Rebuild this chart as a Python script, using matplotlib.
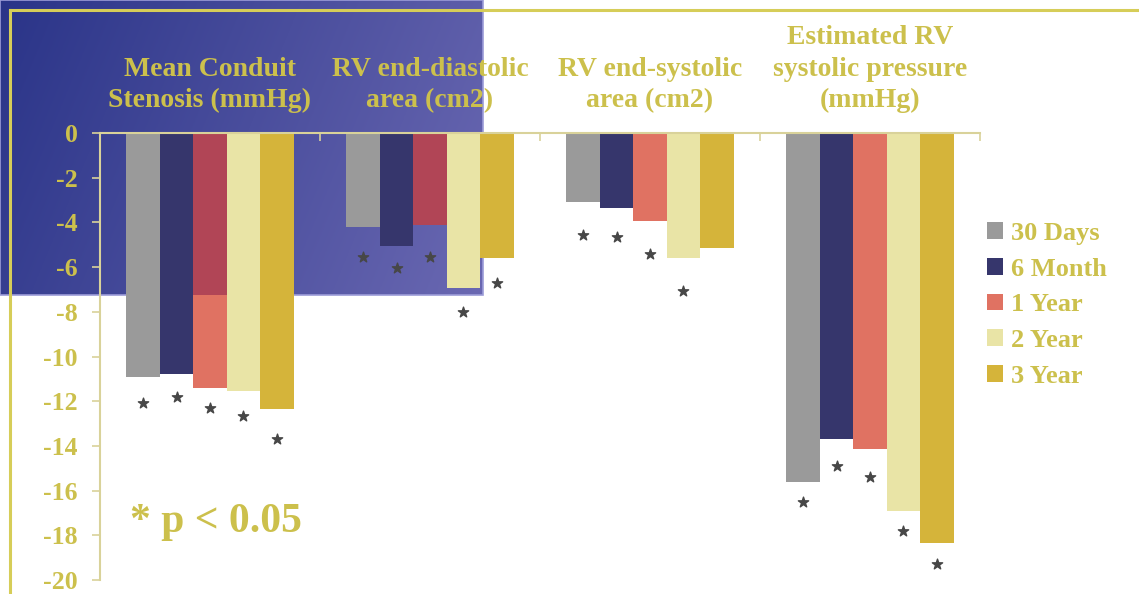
import numpy as np
import matplotlib
matplotlib.use("Agg")
import matplotlib.pyplot as plt
from matplotlib.patches import Rectangle
from matplotlib.lines import Line2D
from matplotlib.colors import to_rgb

# ---- data -------------------------------------------------------------
categories = [
    "Mean Conduit\nStenosis (mmHg)",
    "RV end-diastolic\narea (cm2)",
    "RV end-systolic\narea (cm2)",
    "Estimated RV\nsystolic pressure\n(mmHg)",
]
series = ["30 Days", "6 Month", "1 Year", "2 Year", "3 Year"]

change_30d = [-10.9, -4.2, -3.1, -15.6]
change_6m = [-10.8, -5.05, -3.35, -13.7]
change_1y = [-11.4, -4.1, -3.95, -14.15]
change_2y = [-11.55, -6.95, -5.6, -16.9]
change_3y = [-12.35, -5.6, -5.15, -18.35]

# y position of the significance asterisk under each bar (None = not significant)
star_30d = [-12.1, -5.55, -4.55, -16.5]
star_6m = [-11.8, -6.05, -4.65, -14.9]
star_1y = [-12.3, -5.55, -5.4, -15.4]
star_2y = [-12.65, -8.0, -7.05, -17.8]
star_3y = [-13.7, -6.7, None, -19.3]

yticks = [0, -2, -4, -6, -8, -10, -12, -14, -16, -18, -20]
note_text = "* p < 0.05"

values = [change_30d, change_6m, change_1y, change_2y, change_3y]
stars = [star_30d, star_6m, star_1y, star_2y, star_3y]
colors = ["#9A9A9A", "#36366C", "#E07262", "#E9E4A6", "#D5B43A"]
dark_red = "#B14556"

GOLD = "#CCC04C"
AXIS = "#D9D29A"
W, H = 1139, 594

plt.rcParams["font.family"] = ["Liberation Serif", "DejaVu Serif"]
plt.rcParams["font.weight"] = "bold"

fig = plt.figure(figsize=(W / 100, H / 100), dpi=100)
fig.patch.set_facecolor("white")

# ---- blue panel in the upper left --------------------------------------
px, py, pw, ph = 0, 295, 483, 295  # left, bottom(from top), width, height in pixels
bg_ax = fig.add_axes([px / W, 1 - py / H, pw / W, ph / H], zorder=0)
c0 = np.array(to_rgb("#2A3488"))
c1 = np.array(to_rgb("#6A68B2"))
gx = np.linspace(0, 1, 300)[None, :]
gy = np.linspace(0, 1, 150)[:, None]
t = np.clip(0.8 * gx + 0.2 * gy, 0, 1)[..., None]
grad = c0 * (1 - t) + c1 * t
bg_ax.imshow(grad, aspect="auto", extent=[0, 1, 0, 1], origin="upper")
bg_ax.set_axis_off()
fig.patches.append(Rectangle((px / W, 1 - py / H), pw / W, ph / H,
                             transform=fig.transFigure, fill=False,
                             edgecolor="#9C9CD8", linewidth=1.2, zorder=1))

# ---- main axes ---------------------------------------------------------
left, right, top, bottom = 100, 980, 133, 580
ax = fig.add_axes([left / W, 1 - bottom / H, (right - left) / W, (bottom - top) / H],
                  zorder=2)
ax.set_facecolor("none")

n = len(series)
width = 0.152
x = np.arange(len(categories)) + 0.5
for i, (vals, col) in enumerate(zip(values, colors)):
    xs = x + (i - (n - 1) / 2) * width
    ax.bar(xs, vals, width=width, color=col, label=series[i], zorder=2)
    sx = [xx for xx, s in zip(xs, stars[i]) if s is not None]
    sy = [s for s in stars[i] if s is not None]
    ax.scatter(sx, sy, marker="*", s=60, color="#474747", zorder=3)

# the 1 Year bars take on a darker tone where they cross the blue panel
clip_rect = Rectangle((px / W, 1 - py / H), pw / W, ph / H, transform=fig.transFigure)
xs1 = x + (2 - (n - 1) / 2) * width
over = ax.bar(xs1, change_1y, width=width, color=dark_red, zorder=2.5)
for p in over:
    p.set_clip_path(clip_rect)

ax.set_xlim(0, len(categories))
ax.set_ylim(-20, 0)
ax.set_yticks(yticks)
ax.set_yticklabels([str(v) for v in yticks])
ax.tick_params(axis="y", direction="out", length=6, width=1.2, color=AXIS,
               labelcolor=GOLD, labelsize=18.5, pad=10)
ax.xaxis.set_ticks_position("top")
ax.set_xticks(np.arange(len(categories) + 1))
ax.set_xticklabels([])
ax.tick_params(axis="x", direction="in", length=6, width=1.2, color=AXIS)
for s in ["bottom", "right"]:
    ax.spines[s].set_visible(False)
for s in ["left", "top"]:
    ax.spines[s].set_color(AXIS)
    ax.spines[s].set_linewidth(1.5)
for lbl in ax.get_yticklabels():
    lbl.set_fontweight("bold")

# category headings above the bars
for xi, cat in zip(x, categories):
    ax.text(xi, 1 + 20 / (bottom - top), cat, transform=ax.get_xaxis_transform(),
            ha="center", va="bottom", multialignment="center", color=GOLD,
            fontsize=20, fontweight="bold", linespacing=1.33)

ax.text(130 / W, 1 - 522 / H, note_text, transform=fig.transFigure,
        ha="left", va="center", color=GOLD, fontsize=30, fontweight="bold")

leg = ax.legend(loc="upper left", bbox_to_anchor=(987 / W, 1 - 222 / H),
                bbox_transform=fig.transFigure, frameon=False,
                handlelength=0.6, handleheight=0.6, handletextpad=0.3,
                labelspacing=0.48, borderpad=0, borderaxespad=0,
                prop={"family": "Liberation Serif", "weight": "bold", "size": 19})
for txt in leg.get_texts():
    txt.set_color(GOLD)

# gold frame lines
fig.lines.append(Line2D([10 / W, 10 / W], [0, 1 - 10 / H], transform=fig.transFigure,
                        color="#D6CD58", linewidth=2.2, zorder=5))
fig.lines.append(Line2D([10 / W, 1], [1 - 10 / H, 1 - 10 / H], transform=fig.transFigure,
                        color="#D6CD58", linewidth=2.2, zorder=5))

fig.savefig("out.png", dpi=100)
